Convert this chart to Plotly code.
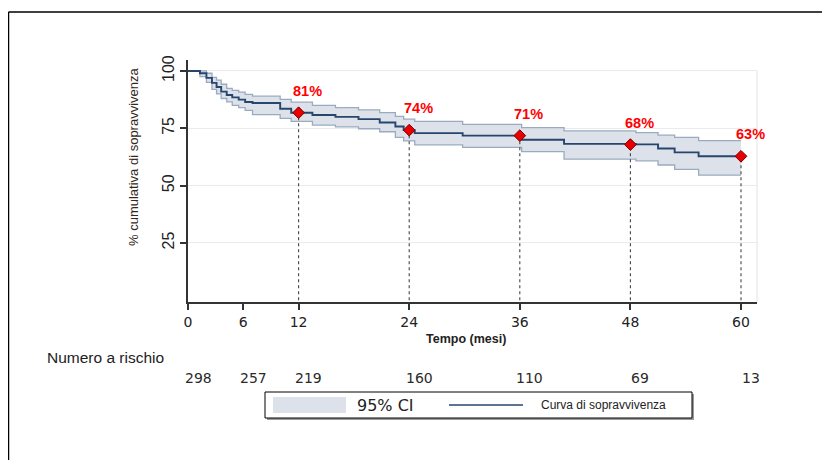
import plotly.graph_objects as go

# ---------------- data ----------------
time_months = [0, 1.3, 2.0, 2.6, 3.1, 3.6, 4.2, 4.8, 5.5, 6.2, 7.0, 10.0, 11.2, 13.5, 16.0,
               18.5, 20.8, 22.5, 23.4, 24.6, 29.8, 36.2, 40.8, 48.6, 51.0, 52.8, 55.4, 60]
survival = [100, 99.0, 97.0, 94.8, 93.0, 91.0, 89.5, 88.5, 87.5, 86.5, 86.0, 83.5, 81.8, 80.8, 80.0,
            79.0, 77.5, 75.8, 74.2, 72.9, 71.8, 70.0, 68.2, 68.0, 66.2, 64.5, 62.8, 62.8]
ci_lower = [100, 97.5, 95.0, 92.0, 90.0, 88.0, 86.5, 85.0, 84.0, 82.8, 81.0, 79.3, 78.0, 76.4, 75.6,
            74.8, 73.5, 71.0, 69.5, 67.8, 66.7, 64.8, 61.6, 60.8, 59.0, 57.1, 54.6, 54.6]
ci_upper = [100, 100, 99.0, 97.2, 96.0, 94.2, 92.4, 91.5, 90.8, 89.8, 89.0, 87.6, 86.4, 85.0, 84.0,
            83.0, 81.8, 80.2, 79.0, 78.0, 76.7, 75.3, 73.9, 73.1, 72.0, 71.0, 69.6, 69.6]

milestone_months = [12, 24, 36, 48, 60]
milestone_surv = [81.8, 74.2, 71.8, 67.9, 62.8]
milestone_labels = ["81%", "74%", "71%", "68%", "63%"]

risk_months = [0, 6, 12, 24, 36, 48, 60]
risk_numbers = [298, 257, 219, 160, 110, 69, 13]

x_ticks = [0, 6, 12, 24, 36, 48, 60]
y_ticks = [25, 50, 75, 100]

# ---------------- layout helpers (page pixels -> paper) ----------------
OFF = 8  # default body margin of the html page
FIG_W, FIG_H = 830 - OFF, 460 - OFF
L, R, T, B = 188, 757, 60, 302  # plot area in page pixels
def px(x):
    return (x - L) / (R - L)
def py(y):
    return (B - y) / (B - T)

BAND_EDGE = "#9aabbf"
BAND_FILL = "#dde2ea"
LINE_COL = "#27466e"

fig = go.Figure()

fig.add_trace(go.Scatter(x=time_months, y=ci_upper, mode="lines", line=dict(shape="hv", color=BAND_EDGE, width=1.3),
                         hoverinfo="skip"))
fig.add_trace(go.Scatter(x=time_months, y=ci_lower, mode="lines", line=dict(shape="hv", color=BAND_EDGE, width=1.3),
                         fill="tonexty", fillcolor=BAND_FILL, hoverinfo="skip"))
fig.add_trace(go.Scatter(x=time_months, y=survival, mode="lines", line=dict(shape="hv", color=LINE_COL, width=1.9),
                         hoverinfo="skip"))

for t, s in zip(milestone_months, milestone_surv):
    fig.add_trace(go.Scatter(x=[t, t], y=[0, s], mode="lines",
                             line=dict(color="#444444", width=1.1, dash="3px,3px"), hoverinfo="skip"))

fig.add_trace(go.Scatter(x=milestone_months, y=milestone_surv, mode="markers",
                         marker=dict(symbol="diamond", size=9, color="#e80000",
                                     line=dict(color="#7a0000", width=1)), hoverinfo="skip"))

annotations = []
for t, s, lab in zip(milestone_months, milestone_surv, milestone_labels):
    annotations.append(dict(x=t, y=s, xref="x", yref="y", text="<b>" + lab + "</b>", showarrow=False,
                            xanchor="center", yanchor="middle",
                            xshift=9, yshift=22, font=dict(family="Liberation Sans", size=14.5, color="#ff0000")))

for t, n in zip(risk_months, risk_numbers):
    annotations.append(dict(x=t, y=py(378), xref="x", yref="paper", text=str(n), showarrow=False,
                            xanchor="center", yanchor="middle",
                            xshift=10, font=dict(family="DejaVu Sans", size=14, color="#2a2a2a")))

annotations += [
    dict(x=px(133), y=py(157), xref="paper", yref="paper", text="% cumulativa di sopravvivenza",
         textangle=-90, showarrow=False, xanchor="center", yanchor="middle",
         font=dict(family="Liberation Sans", size=13, color="#332820")),
    dict(x=px(466), y=py(339), xref="paper", yref="paper", text="<b>Tempo (mesi)</b>",
         showarrow=False, xanchor="center", yanchor="middle",
         font=dict(family="Liberation Sans", size=12.5, color="#222222")),
    dict(x=px(45), y=py(357), xref="paper", yref="paper", text="Numero a rischio",
         xanchor="left", yanchor="middle",
         showarrow=False, font=dict(family="Liberation Sans", size=15.5, color="#222222")),
    dict(x=px(355), y=py(405), xref="paper", yref="paper", text="95% CI", xanchor="left", yanchor="middle",
         showarrow=False, font=dict(family="DejaVu Sans", size=16, color="#222222")),
    dict(x=px(539), y=py(405), xref="paper", yref="paper", text="Curva di sopravvivenza",
         xanchor="left", yanchor="middle",
         showarrow=False, font=dict(family="Liberation Sans", size=12, color="#222222")),
]

shapes = [
    # outer frame (top & left)
    dict(type="line", xref="paper", yref="paper", x0=px(8.5), x1=px(840), y0=py(12), y1=py(12),
         line=dict(color="#000000", width=1.5)),
    dict(type="line", xref="paper", yref="paper", x0=px(8.5), x1=px(8.5), y0=py(12), y1=py(470),
         line=dict(color="#000000", width=1.5)),
    # plot right border
    dict(type="line", xref="paper", yref="paper", x0=1, x1=1, y0=0, y1=py(71),
         line=dict(color="#e3e9ec", width=1.2)),
    # legend box shadow + box
    dict(type="rect", xref="paper", yref="paper", x0=px(267), x1=px(694), y0=py(394), y1=py(420),
         line=dict(width=0), fillcolor="#9a9a9a"),
    dict(type="rect", xref="paper", yref="paper", x0=px(265), x1=px(692), y0=py(392), y1=py(418),
         line=dict(color="#000000", width=1), fillcolor="#ffffff"),
    dict(type="rect", xref="paper", yref="paper", x0=px(273), x1=px(346), y0=py(397), y1=py(413),
         line=dict(width=0), fillcolor=BAND_FILL),
    dict(type="line", xref="paper", yref="paper", x0=px(449), x1=px(523), y0=py(405), y1=py(405),
         line=dict(color=LINE_COL, width=1.5)),
]

x_per_px = 60 / (741 - 188)
y_per_px = 75 / (243 - 71)
fig.update_layout(
    width=FIG_W, height=FIG_H, autosize=False,
    margin=dict(l=L - OFF, r=830 - R, t=T - OFF, b=460 - B, pad=0),
    paper_bgcolor="white", plot_bgcolor="white",
    showlegend=False,
    annotations=annotations, shapes=shapes,
    xaxis=dict(range=[0, (R - 188) * x_per_px], tickvals=x_ticks, showgrid=False, zeroline=False,
               showline=True, linecolor="#333333", linewidth=2, ticks="outside", ticklen=6, tickwidth=1.5,
               tickcolor="#333333", tickfont=dict(family="DejaVu Sans", size=14, color="#222222")),
    yaxis=dict(range=[-(B - 300.3) * y_per_px, (300.3 - T) * y_per_px], tickvals=y_ticks, tickangle=-90,
               showgrid=True, gridcolor="#e6ecef", gridwidth=1.2, zeroline=False,
               showline=True, linecolor="#333333", linewidth=2, ticks="outside", ticklen=6, tickwidth=1.5,
               tickcolor="#333333", tickfont=dict(family="Liberation Sans", size=16, color="#222222")),
)

fig.write_html("out.html")
